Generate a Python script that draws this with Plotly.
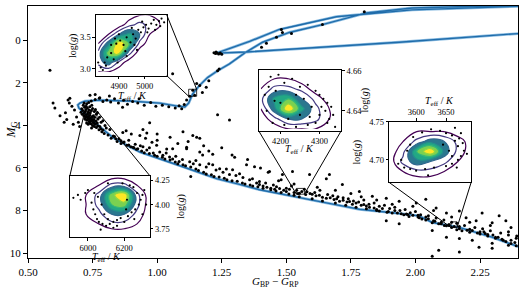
import plotly.graph_objects as go

SERIF = "Liberation Serif"

# ---------------- main CMD data ----------------
iso_color = [2.45, 2.401, 2.296, 2.169, 2.065, 2.014, 1.910, 1.783, 1.655, 1.524, 1.396, 1.319,
             1.230, 1.099, 0.971, 0.933, 0.875, 0.828, 0.778, 0.747, 0.728, 0.712, 0.697, 0.693,
             0.701, 0.720, 0.778, 0.906, 1.010, 1.079, 1.107, 1.122, 1.137, 1.164, 1.195, 1.234,
             1.280, 1.338, 1.408, 1.512, 1.640, 1.810, 1.987, 2.401, 2.60, 2.60, 2.401, 1.987,
             1.694, 1.473, 1.358, 1.230, 1.346, 1.937, 2.401, 2.60]
iso_mag = [9.98, 9.71, 9.25, 8.79, 8.56, 8.25, 8.10, 7.94, 7.64, 7.33, 7.02, 6.77,
           6.50, 5.94, 5.39, 5.25, 4.88, 4.56, 4.06, 3.73, 3.50, 3.32, 3.18, 3.04,
           2.95, 2.86, 2.81, 2.86, 2.95, 3.09, 3.13, 2.95, 2.53, 2.12, 1.75, 1.43,
           1.11, 0.60, 0.09, -0.37, -0.74, -1.29, -1.52, -1.66, -1.75, -1.72, -1.60, -1.43,
           -1.11, -0.51, 0.05, 0.60, 0.55, 0.09, -0.32, -0.45]

turnoff_stars = [(0.712,3.30),(0.718,3.42),(0.722,3.35),(0.726,3.50),(0.731,3.46),(0.735,3.58),(0.729,3.62),
    (0.738,3.70),(0.742,3.65),(0.745,3.78),(0.716,3.55),(0.720,3.68),(0.724,3.25),(0.733,3.38),(0.740,3.52),
    (0.748,3.60),(0.752,3.85),(0.744,3.92),(0.737,3.82),(0.728,3.75),(0.755,3.72),(0.760,3.95),(0.757,4.05),
    (0.750,4.00),(0.765,4.10),(0.770,4.02),(0.762,3.80),(0.768,3.88),(0.775,4.20),(0.778,4.05),(0.782,4.15),
    (0.786,4.30),(0.790,4.22),(0.795,4.38),(0.741,3.40),(0.736,3.28),(0.730,3.18),(0.725,3.10),(0.719,3.15),
    (0.714,3.05),(0.708,3.22),(0.705,3.38),(0.710,3.48),(0.733,3.95),(0.727,3.88),(0.746,4.12),(0.753,3.55),
    (0.758,3.62),(0.764,3.48),(0.771,3.70),(0.777,3.62),(0.783,3.85),(0.790,3.78),(0.798,4.00),(0.803,4.12),
    (0.745,3.30),(0.750,3.20),(0.757,3.35),(0.739,3.12),(0.747,3.05),(0.727,2.98),(0.735,2.92),(0.717,2.95),
    (0.761,3.25),(0.769,3.40),(0.723,3.60),(0.732,3.70),(0.739,3.88),(0.749,3.72),(0.755,3.90)]
subgiant_stars = [(0.745,2.85),(0.760,2.78),(0.776,2.72),(0.790,2.88),(0.805,2.80),(0.820,2.90),(0.835,2.75),
    (0.850,2.95),(0.870,2.82),(0.885,3.00),(0.905,2.88),(0.925,2.95),(0.950,3.05),(0.975,2.92),(0.995,3.10),
    (1.020,3.05),(1.045,3.12),(1.070,3.18),(1.085,3.08),(1.095,3.22),(1.105,3.02),(0.740,2.58),(0.778,2.70),
    (0.815,2.62),(0.760,2.55),(0.866,3.15),(0.930,2.75)]
blue_outliers = [(0.585,1.41),(0.597,2.95),(0.604,3.18),(0.624,3.55),(0.650,3.72),(0.645,3.40),(0.655,2.80),
    (0.660,2.95),(0.662,2.72),(0.670,3.10),(0.680,3.28),(0.688,3.60),(0.695,3.85),(0.700,4.05),(0.675,3.95),
    (0.640,3.85)]
upper_ms_stars = [(0.817,4.19),(0.867,4.33),(0.880,4.25),(0.900,4.40),(0.933,4.47),(0.945,4.19),(0.955,4.60),
    (0.971,3.87),(0.980,4.79),(1.000,4.70),(1.037,5.11),(1.060,5.10),(1.114,5.10),(1.153,4.56),(1.165,4.60),
    (1.234,3.50),(1.280,3.74),(1.00,4.40),(1.05,4.55),(1.08,4.85),(1.12,4.75),(1.18,4.95),(1.20,5.20),
    (1.25,5.05),(1.30,5.50),(1.35,5.60),(1.10,4.30),(0.96,4.35),(1.138,4.47),(1.40,6.00),(1.43,6.20)]
ms_band_blue = [(0.810,4.45),(0.822,4.60),(0.835,4.52),(0.845,4.75),(0.852,4.62),(0.860,4.85),(0.872,4.78),
    (0.883,4.93),(0.890,4.70),(0.898,5.00),(0.907,5.02),(0.915,4.88),(0.925,5.10),(0.935,4.95),(0.945,5.00),
    (0.960,5.16),(0.970,5.05),(0.985,5.30),(0.998,4.93),(1.010,5.25),(1.022,5.40),(1.035,5.30),(1.048,5.48),
    (1.060,5.58),(1.072,5.45),(1.085,5.70),(1.098,5.60),(1.114,5.02),(1.126,5.71),(1.140,5.80),(1.150,5.65),
    (1.165,5.85),(1.176,5.39),(1.190,5.95),(1.200,5.80),(1.215,5.85),(1.228,6.10),(1.242,6.04),(1.255,6.20),
    (1.268,6.05),(1.280,6.30),(1.292,6.08),(1.305,6.35),(1.319,6.27),(1.332,6.45),(1.346,5.85),(1.358,6.55),
    (1.369,6.50),(1.377,5.94),(1.385,6.70),(1.396,6.64),(1.165,5.25),(1.215,5.35),(1.290,5.39),(1.130,6.40),
    (0.83,4.50),(0.84,4.62),(0.86,4.72),(0.87,4.80),(0.89,4.92),(0.91,5.05),(0.92,5.12),(0.94,5.20),
    (0.95,5.28),(0.97,5.32),(0.99,5.40),(1.00,5.45),(1.02,5.50),(1.03,5.58),(1.05,5.62),(1.07,5.72),
    (1.08,5.80),(1.10,5.85),(1.11,5.90),(1.13,5.95),(1.15,6.05),(1.16,6.12),(1.18,6.20),(1.19,6.28),
    (1.21,6.32),(1.22,6.40),(1.24,6.42),(1.26,6.48),(1.27,6.55),(1.29,6.60),(1.31,6.62),(1.33,6.70),
    (1.34,6.75),(1.36,6.80),(1.37,6.85),(1.39,6.88),(1.41,6.95),(1.44,7.02),(1.46,7.08),(1.48,7.15),
    (1.51,7.22),(1.53,7.28)]
ms_band_red = [(1.396,6.77),(1.410,6.85),(1.425,6.90),(1.435,6.17),(1.440,6.95),(1.455,7.00),(1.462,6.88),
    (1.474,6.96),(1.485,6.31),(1.490,7.05),(1.500,7.10),(1.512,7.00),(1.524,6.17),(1.530,7.15),(1.545,7.20),
    (1.551,7.19),(1.560,7.10),(1.575,7.25),(1.590,6.31),(1.592,7.20),(1.600,7.23),(1.615,7.30),(1.628,7.28),
    (1.640,7.38),(1.655,7.42),(1.655,6.50),(1.667,6.31),(1.670,7.40),(1.685,7.48),(1.695,7.45),(1.706,7.56),
    (1.717,6.77),(1.720,7.52),(1.735,7.60),(1.745,7.58),(1.756,7.70),(1.770,7.65),(1.783,7.10),(1.790,7.75),
    (1.800,7.72),(1.810,7.79),(1.822,7.85),(1.833,7.33),(1.840,7.88),(1.850,7.95),(1.860,8.02),(1.872,7.90),
    (1.887,7.42),(1.887,8.48),(1.895,8.05),(1.910,8.11),(1.920,8.00),(1.937,7.56),(1.937,8.62),(1.945,8.15),
    (1.955,8.20),(1.965,8.16),(1.975,8.28),(1.990,8.22),(2.003,7.65),(2.010,8.30),(2.015,8.34),(2.025,8.40),
    (2.040,7.47),(2.040,8.45),(2.050,8.38),(2.065,8.57),(2.065,8.94),(2.075,8.50),(2.080,7.88),(2.090,8.62),
    (2.100,8.55),(2.112,8.70),(2.120,8.71),(2.120,8.11),(2.120,9.26),(2.130,8.65),(2.140,8.80),(2.150,8.75),
    (2.160,8.90),(2.170,8.85),(2.170,8.02),(2.170,9.31),(2.180,8.95),(2.196,8.34),(2.200,8.92),(2.210,9.02),
    (2.220,8.94),(2.220,9.40),(2.235,8.48),(2.240,9.05),(2.250,9.10),(2.258,8.11),(2.265,9.00),(2.270,9.08),
    (2.280,9.20),(2.297,8.57),(2.297,9.54),(2.300,9.15),(2.310,9.30),(2.320,9.26),(2.324,8.25),(2.335,9.35),
    (2.350,8.48),(2.350,9.45),(2.360,9.63),(2.370,9.40),(2.370,8.80),(2.385,9.50),(2.392,9.20),(2.065,10.15),
    (2.090,9.86),(2.170,9.95),(2.246,9.72),(2.297,9.77),
    (1.42,6.70),(1.45,6.80),(1.47,6.60),(1.50,6.95),(1.52,6.85),(1.54,7.05),(1.57,7.00),(1.58,7.12),
    (1.61,7.15),(1.63,7.05),(1.66,7.25),(1.68,7.30),(1.70,7.35),(1.72,7.40),(1.74,7.45),(1.76,7.55),
    (1.78,7.60),(1.80,7.50),(1.82,7.70),(1.84,7.65),(1.86,7.80),(1.88,7.75),(1.90,7.90),(1.92,7.85),
    (1.94,8.00),(1.96,7.95),(1.98,8.10),(2.00,8.05),(2.02,8.20),(2.05,8.25),(2.08,8.35),(2.11,8.45),
    (2.14,8.55),(2.16,8.60),(2.19,8.70),(2.23,8.80),(2.26,8.85),(2.29,8.95),(2.33,9.05),(2.36,9.15),(2.39,9.30),
    (1.55,7.35),(1.60,7.45),(1.64,7.55),(1.69,7.65),(1.73,7.75),(1.77,7.85),(1.81,7.92),(1.85,8.00),
    (1.89,8.08),(1.93,8.12),(1.97,8.18),(2.01,8.22),(2.04,8.30),(2.07,8.48),(2.10,8.62),(2.13,8.70),
    (2.17,8.75),(2.21,8.88),(2.25,9.00),(2.28,9.12),(2.31,9.25),(2.34,9.40),(2.37,9.55),(2.39,9.65),
    (1.48,6.55),(1.53,6.75),(1.62,6.90),(1.69,7.05),(1.75,7.20),(1.79,7.35),(1.85,7.50),(1.91,7.70),
    (1.99,7.80),(2.07,8.00),(2.14,8.30),(2.21,8.55),(2.29,8.70),(2.36,9.00)]
giant_stars = [(1.153,2.03),(1.165,2.12),(1.138,2.35),(1.145,2.58),(1.126,2.63),(1.114,2.81),(1.060,1.57),
    (1.234,1.43),(1.240,1.35),(1.200,1.90),(1.190,2.20),(1.175,2.45),
    (1.220,0.58),(1.226,0.62),(1.232,0.60),(1.238,0.64),(1.244,0.60),(1.250,0.66),(1.228,0.55),
    (1.481,-0.51),(1.485,-0.37),(1.462,-0.14),(1.520,-0.32),(1.423,0.14),(1.404,0.32),(1.802,-1.34),(1.640,-0.74)]

cmd_stars = turnoff_stars + subgiant_stars + blue_outliers + upper_ms_stars + ms_band_blue + ms_band_red + giant_stars
cmd_color = [p[0] for p in cmd_stars]
cmd_mag = [p[1] for p in cmd_stars]

x_ticks = [0.50, 0.75, 1.00, 1.25, 1.50, 1.75, 2.00, 2.25]
x_ticklabels = ["0.50", "0.75", "1.00", "1.25", "1.50", "1.75", "2.00", "2.25"]
y_ticks = [0, 2, 4, 6, 8, 10]

# ---------------- inset data (Teff, logg) ----------------
rg_teff_grid = [4820, 4860, 4900, 4940, 4980, 5020, 5060]
rg_logg_grid = [2.95, 3.10, 3.25, 3.40, 3.55, 3.70, 3.85]
rg_density = [[1, 1, 0, 0, 0, 0, 0],
              [3, 5, 2, 0, 0, 0, 0],
              [3, 8, 9, 3, 0, 0, 0],
              [1, 5, 10, 7, 2, 0, 0],
              [0, 1, 4, 6, 4, 1, 0],
              [0, 0, 0, 2, 3, 2, 1],
              [0, 0, 0, 0, 1, 1, 0]]
rg_samples = [(4830,3.02),(4845,3.10),(4838,2.98),(4855,3.18),(4870,3.25),(4880,3.15),(4890,3.40),(4905,3.45),
    (4918,3.38),(4930,3.50),(4945,3.42),(4955,3.55),(4965,3.48),(4975,3.62),(4985,3.58),(4995,3.66),(5005,3.70),
    (5015,3.64),(5025,3.72),(5035,3.78),(5045,3.70),(5055,3.76),(5065,3.80),(5075,3.74),(5040,3.62),(5010,3.58),
    (4960,3.38),(4925,3.28),(4885,3.48),(4870,3.38),(4850,3.05),(4900,3.55),(4950,3.65),(4990,3.75),(5060,3.68),
    (4820,3.10),(4895,3.10),(4930,3.20),(4970,3.30)]

kd_teff_grid = [4150, 4185, 4220, 4255, 4290, 4325, 4360]
kd_logg_grid = [4.631, 4.636, 4.641, 4.646, 4.651, 4.656, 4.661]
kd_density = [[0, 0, 1, 1, 1, 0, 0],
              [0, 2, 4, 4, 3, 1, 0],
              [1, 5, 10, 6, 3, 1, 0],
              [2, 6, 7, 4, 2, 0, 0],
              [1, 3, 3, 2, 0, 0, 0],
              [0, 1, 1, 0, 0, 0, 0],
              [0, 0, 0, 0, 0, 0, 0]]
kd_samples = [(4175,4.657),(4195,4.658),(4230,4.656),(4210,4.654),(4250,4.652),(4270,4.653),(4290,4.650),
    (4300,4.648),(4310,4.646),(4320,4.644),(4330,4.642),(4315,4.640),(4300,4.638),(4325,4.636),(4335,4.638),
    (4290,4.634),(4270,4.633),(4240,4.632),(4210,4.633),(4180,4.634),(4165,4.640),(4160,4.648),(4170,4.652),
    (4188,4.650),(4260,4.646),(4280,4.642),(4305,4.642),(4250,4.638),(4220,4.636),(4200,4.644),(4240,4.648),
    (4185,4.645),(4275,4.637),(4320,4.634),(4340,4.632)]

ft_teff_grid = [5920, 5990, 6060, 6130, 6200, 6270, 6340]
ft_logg_grid = [3.70, 3.80, 3.90, 4.00, 4.10, 4.20, 4.30]
ft_density = [[0, 0, 0, 0, 0, 0, 0],
              [0, 0, 1, 2, 2, 1, 0],
              [0, 1, 2, 4, 4, 2, 0],
              [0, 1, 3, 7, 8, 3, 0],
              [0, 1, 3, 8, 10, 3, 0],
              [0, 0, 1, 3, 3, 1, 0],
              [0, 0, 0, 0, 0, 0, 0]]
ft_samples = [(5920,4.07),(5945,4.10),(5960,4.05),(5985,4.12),(6000,4.15),(6020,4.02),(6030,3.95),(6040,3.90),
    (6050,3.85),(6060,3.82),(6080,3.80),(6100,3.78),(6120,3.80),(6140,3.82),(6160,3.84),(6180,3.86),(6200,3.82),
    (6220,3.88),(6240,3.92),(6260,3.95),(6280,4.00),(6290,4.05),(6300,4.10),(6310,4.15),(6250,4.18),(6230,4.20),
    (6270,4.12),(6160,3.78),(6140,3.76),(6110,3.85),(6090,3.90),(6210,3.95),(6075,4.00),(6055,4.08),(6035,4.12),
    (6110,4.22),(6190,4.22),(6215,4.05),(6255,3.85),(6300,3.90),(6320,4.00),(6070,3.74)]

md_teff_grid = [3555, 3578, 3601, 3624, 3647, 3670, 3693]
md_logg_grid = [4.672, 4.685, 4.698, 4.711, 4.724, 4.737, 4.750]
md_density = [[0, 0, 0, 0, 0, 0, 0],
              [0, 1, 2, 2, 1, 0, 0],
              [0, 3, 5, 4, 3, 1, 0],
              [0, 2, 7, 10, 5, 2, 0],
              [0, 1, 3, 5, 4, 2, 0],
              [0, 0, 1, 1, 1, 0, 0],
              [0, 0, 0, 0, 0, 0, 0]]
md_samples = [(3575,4.700),(3580,4.690),(3590,4.688),(3600,4.686),(3615,4.688),(3630,4.690),(3650,4.692),
    (3660,4.695),(3670,4.700),(3675,4.705),(3680,4.712),(3670,4.718),(3665,4.725),(3660,4.732),(3650,4.735),
    (3640,4.738),(3625,4.740),(3610,4.736),(3595,4.730),(3672,4.728),(3678,4.722),(3685,4.708),(3668,4.690),
    (3655,4.712),(3645,4.720),(3660,4.705),(3585,4.712),(3570,4.695),(3590,4.720),(3620,4.680),(3675,4.735),
    (3665,4.742)]

# ---------------- geometry ----------------
W, H = 520, 287
ML, MR, MT, MB = 28, 1, 1, 29
XR = [0.5, 2.397]
YR = [10.23, -1.613]

def P(px, py):
    return ((px - ML) / (W - ML - MR), (H - MB - py) / (H - MT - MB))

def D(x, m):
    return ((x - XR[0]) / (XR[1] - XR[0]), (YR[0] - m) / (YR[0] - YR[1]))

insets = [
    dict(px=(96, 10, 167, 72), xr=[4811, 5085], yr=[2.891, 3.859], xt=[4900, 5000], yt=[3.0, 3.5],
         ytt=["3.0", "3.5"], xside="bottom", yside="left",
         grid=(rg_teff_grid, rg_logg_grid, rg_density), samples=rg_samples,
         box=(1.122, 1.153, 2.30, 2.63), links=[((1, 1), (1, 1)), ((1, 0), (0, 0))],
         xlab=(133, 93), ylab=(73, 42)),
    dict(px=(259, 66, 342, 128), xr=[4144, 4356], yr=[4.6302, 4.6605], xt=[4200, 4300], yt=[4.64, 4.66],
         ytt=["4.64", "4.66"], xside="bottom", yside="right",
         grid=(kd_teff_grid, kd_logg_grid, kd_density), samples=kd_samples,
         box=(1.539, 1.570, 6.96, 7.23), links=[((0, 0), (0, 0)), ((1, 0), (1, 0))],
         xlab=(300, 147), ylab=(366, 97)),
    dict(px=(70, 174, 150, 237), xr=[5901, 6340], yr=[3.66, 4.30], xt=[6000, 6200], yt=[3.75, 4.00, 4.25],
         ytt=["3.75", "4.00", "4.25"], xside="bottom", yside="right",
         grid=(ft_teff_grid, ft_logg_grid, ft_density), samples=ft_samples,
         box=(0.720, 0.767, 3.32, 3.78), links=[((0, 1), (0, 1)), ((1, 1), (1, 1))],
         xlab=(107, 257), ylab=(181, 206)),
    dict(px=(390, 119, 472, 181), xr=[3555, 3692], yr=[4.6705, 4.75], xt=[3600, 3650], yt=[4.70, 4.75],
         ytt=["4.70", "4.75"], xside="top", yside="left",
         grid=(md_teff_grid, md_logg_grid, md_density), samples=md_samples,
         box=(2.138, 2.161, 8.53, 8.80), links=[((0, 0), (0, 0)), ((1, 0), (1, 0))],
         xlab=(440, 98), ylab=(358, 150)),
]

fig = go.Figure()

fig.add_trace(go.Scatter(x=iso_color, y=iso_mag, mode="lines", line=dict(color="#8cbde2", width=2.8),
                         hoverinfo="skip", showlegend=False))
fig.add_trace(go.Scatter(x=iso_color, y=iso_mag, mode="lines", line=dict(color="#1f6caa", width=1.4),
                         hoverinfo="skip", showlegend=False))
fig.add_trace(go.Scatter(x=cmd_color, y=cmd_mag, mode="markers", marker=dict(size=3, color="black"),
                         showlegend=False))

viridis_fill = [[0.0, "rgba(255,255,255,0)"], [0.25, "#2a788e"], [0.5, "#22a884"],
                [0.75, "#7ad151"], [1.0, "#fde725"]]

tickfont_in = dict(family=SERIF, size=8.5, color="black")
lab_font = dict(family=SERIF, size=10, color="black")

layout_axes = {}
annotations = []
shapes = []

for i, ins in enumerate(insets):
    k = i + 2
    xa, ya = f"x{k}", f"y{k}"
    l, t, r, b = ins["px"]
    x0p, y1p = P(l, t)
    x1p, y0p = P(r, b)
    xr, yr = ins["xr"], ins["yr"]
    fig.add_trace(go.Heatmap(x=xr, y=yr, z=[[0, 0], [0, 0]], colorscale=[[0, "white"], [1, "white"]],
                             showscale=False, hoverinfo="skip", xaxis=xa, yaxis=ya))
    gx, gy, gz = ins["grid"]
    fig.add_trace(go.Contour(x=gx, y=gy, z=gz, xaxis=xa, yaxis=ya, showscale=False,
                             colorscale=viridis_fill, line=dict(width=0, smoothing=1.3),
                             contours=dict(coloring="fill", start=4, end=8.5, size=1.5),
                             hoverinfo="skip"))
    fig.add_trace(go.Contour(x=gx, y=gy, z=gz, xaxis=xa, yaxis=ya, showscale=False,
                             colorscale="Viridis", line=dict(width=1.2, smoothing=1.3),
                             contours=dict(coloring="lines", start=1, end=10, size=1.5),
                             hoverinfo="skip"))
    sx = [s[0] for s in ins["samples"]]
    sy = [s[1] for s in ins["samples"]]
    fig.add_trace(go.Scatter(x=sx, y=sy, mode="markers", marker=dict(size=2.2, color="black"),
                             xaxis=xa, yaxis=ya, showlegend=False))
    common = dict(showgrid=False, zeroline=False, showline=True, linecolor="black", linewidth=1,
                  mirror=True, ticks="outside", ticklen=2.5, tickcolor="black", tickfont=tickfont_in)
    layout_axes[f"xaxis{k}"] = dict(domain=[x0p, x1p], range=xr, anchor=ya, side=ins["xside"],
                                    tickvals=ins["xt"], ticktext=[str(v) for v in ins["xt"]], **common)
    layout_axes[f"yaxis{k}"] = dict(domain=[y0p, y1p], range=yr, anchor=xa, side=ins["yside"],
                                    tickvals=ins["yt"], ticktext=ins["ytt"], **common)
    lx, ly = P(*ins["xlab"])
    annotations.append(dict(x=lx, y=ly, xref="paper", yref="paper", showarrow=False,
                            text="<i>T</i><sub>eff</sub> / <i>K</i>", font=lab_font,
                            xanchor="center", yanchor="middle"))
    gx_, gy_ = P(*ins["ylab"])
    annotations.append(dict(x=gx_, y=gy_, xref="paper", yref="paper", showarrow=False,
                            text="log(<i>g</i>)", font=lab_font, textangle=-90,
                            xanchor="center", yanchor="middle"))
    bx0, bx1, bm0, bm1 = ins["box"]
    shapes.append(dict(type="rect", xref="x", yref="y", x0=bx0, x1=bx1, y0=bm0, y1=bm1,
                       line=dict(color="black", width=0.8), layer="above"))
    corners_in = {(0, 0): (x0p, y0p), (1, 0): (x1p, y0p), (0, 1): (x0p, y1p), (1, 1): (x1p, y1p)}
    for cin, cbox in ins["links"]:
        ax_, ay_ = corners_in[cin]
        bxx = bx0 if cbox[0] == 0 else bx1
        bmm = bm1 if cbox[1] == 0 else bm0
        px_, py_ = D(bxx, bmm)
        shapes.append(dict(type="line", xref="paper", yref="paper", x0=ax_, y0=ay_, x1=px_, y1=py_,
                           line=dict(color="black", width=1), layer="above"))

main_common = dict(showgrid=False, zeroline=False, showline=True, linecolor="black", linewidth=1,
                   mirror=True, ticks="outside", ticklen=4, tickcolor="black",
                   tickfont=dict(family=SERIF, size=11, color="black"))

ylx, yly = P(11, 128)
annotations.append(dict(x=ylx, y=yly, xref="paper", yref="paper", showarrow=False,
                        text="<i>M</i><sub>G</sub>", textangle=-90, xanchor="center", yanchor="middle",
                        font=dict(family=SERIF, size=12, color="black")))
xlx, xly = P(276, 292)
annotations.append(dict(x=xlx, y=xly, xref="paper", yref="paper", showarrow=False,
                        text="<i>G</i><sub>BP</sub> \u2212 <i>G</i><sub>RP</sub>",
                        xanchor="center", yanchor="bottom",
                        font=dict(family=SERIF, size=11, color="black")))

fig.update_layout(
    width=W, height=H, margin=dict(l=ML, r=MR, t=MT, b=MB),
    paper_bgcolor="white", plot_bgcolor="white", showlegend=False,
    xaxis=dict(domain=[0, 1], range=XR, tickvals=x_ticks, ticktext=x_ticklabels, **main_common),
    yaxis=dict(domain=[0, 1], range=YR, tickvals=y_ticks, **main_common),
    annotations=annotations, shapes=shapes,
    **layout_axes,
)

fig.write_html("out.html", config={"displayModeBar": False},
               post_script="document.body.style.margin='0';")
